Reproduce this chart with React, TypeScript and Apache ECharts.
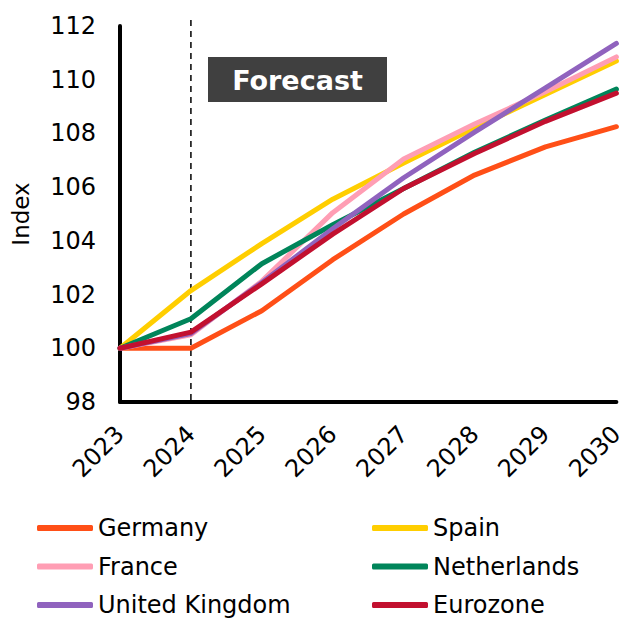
import React, { useEffect, useRef } from "react";
import * as echarts from "echarts";

const years = ["2023", "2024", "2025", "2026", "2027", "2028", "2029", "2030"];
const forecastStart = "2024";
const germany = [100, 100.0, 101.4, 103.3, 105.0, 106.45, 107.5, 108.25];
const spain = [100, 102.15, 103.9, 105.55, 106.9, 108.2, 109.45, 110.7];
const france = [100, 100.5, 102.5, 105.05, 107.05, 108.35, 109.55, 110.85];
const netherlands = [100, 101.1, 103.15, 104.6, 105.95, 107.3, 108.5, 109.65];
const uk = [100, 100.55, 102.45, 104.45, 106.35, 108.05, 109.7, 111.35];
const eurozone = [100, 100.6, 102.4, 104.25, 105.95, 107.25, 108.45, 109.5];

const seriesDefs = [
  { name: "Germany", data: germany, color: "#FF4F17" },
  { name: "Spain", data: spain, color: "#FFCE00" },
  { name: "France", data: france, color: "#FF9EB4" },
  { name: "Netherlands", data: netherlands, color: "#00855A" },
  { name: "United Kingdom", data: uk, color: "#9063BE" },
  { name: "Eurozone", data: eurozone, color: "#C2102F" },
];

const FONT = "'DejaVu Sans', sans-serif";

export default function App() {
  const ref = useRef<HTMLDivElement>(null);
  useEffect(() => {
    document.body.style.margin = "0";
    const chart = echarts.init(ref.current!, null, { renderer: "svg" });
    const legendText = { fontFamily: FONT, fontSize: 24, lineHeight: 24, color: "#000" };
    const legendBase = {
      orient: "vertical",
      top: 516,
      padding: 0,
      itemWidth: 56,
      itemHeight: 6,
      itemGap: 14.5,
      icon: "roundRect",
      textStyle: legendText,
    };
    chart.setOption({
      animation: false,
      grid: { left: 120, right: 9, top: 26, bottom: 216 },
      xAxis: {
        type: "category",
        data: years,
        boundaryGap: false,
        axisLine: { lineStyle: { color: "#000", width: 4 } },
        axisTick: { show: false },
        axisLabel: {
          rotate: 45,
          margin: 28,
          fontFamily: FONT,
          fontSize: 24,
          color: "#000",
        },
        splitLine: { show: false },
      },
      yAxis: {
        type: "value",
        min: 98,
        max: 112,
        interval: 2,
        name: "Index",
        nameLocation: "middle",
        nameGap: 88,
        nameTextStyle: { fontFamily: FONT, fontSize: 23, color: "#000" },
        axisLine: { show: true, lineStyle: { color: "#000", width: 4 } },
        axisTick: { show: false },
        axisLabel: { margin: 24, fontFamily: FONT, fontSize: 24, color: "#000" },
        splitLine: { show: false },
      },
      legend: [
        { ...legendBase, left: 37, data: ["Germany", "France", "United Kingdom"] },
        { ...legendBase, left: 372, data: ["Spain", "Netherlands", "Eurozone"] },
      ],
      series: seriesDefs.map((s, i) => ({
        type: "line",
        name: s.name,
        data: s.data,
        color: s.color,
        symbol: "none",
        lineStyle: { width: 5, color: s.color, cap: "round", join: "round" },
        z: 2 + i,
      })),
    });
    const xPx = chart.convertToPixel({ xAxisIndex: 0 }, forecastStart) as number;
    const yBottom = chart.convertToPixel({ yAxisIndex: 0 }, 98) as number;
    chart.setOption({
      graphic: [
        {
          type: "line",
          shape: { x1: xPx, y1: 20, x2: xPx, y2: yBottom },
          style: { stroke: "#000", lineWidth: 1.5, lineDash: [6, 5] },
          z: 1,
        },
        {
          type: "rect",
          shape: { x: 208, y: 57, width: 179, height: 45 },
          style: { fill: "#404040" },
          z: 10,
        },
        {
          type: "text",
          x: 297.5,
          y: 80,
          style: {
            text: "Forecast",
            fill: "#fff",
            fontFamily: FONT,
            fontWeight: "bold",
            fontSize: 27,
            align: "center",
            verticalAlign: "middle",
          },
          z: 11,
        },
      ],
    });
    return () => chart.dispose();
  }, []);
  return <div ref={ref} style={{ width: 627, height: 618 }} />;
}
